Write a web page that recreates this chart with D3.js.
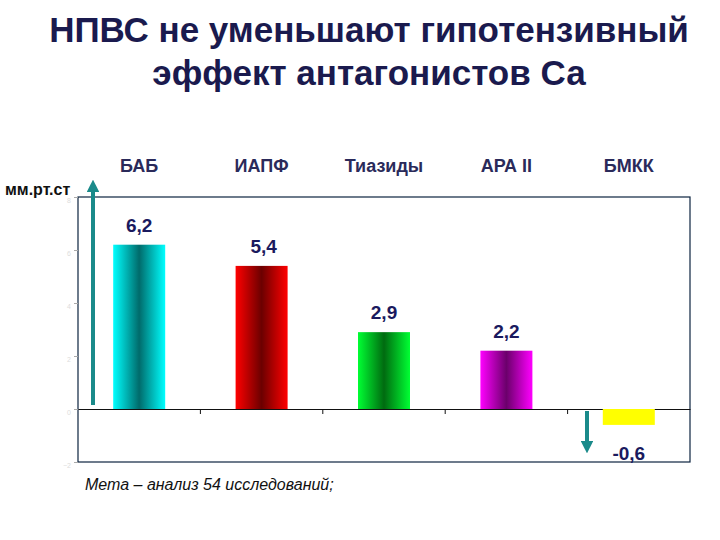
<!DOCTYPE html>
<html><head><meta charset="utf-8">
<script src="https://cdn.jsdelivr.net/npm/d3@7"></script>
<style>body{margin:0;background:#fff}text{font-family:"Liberation Sans",Arial,sans-serif}</style>
</head><body>
<svg id="c" width="720" height="540"></svg>
<script>
const categories = ["БАБ", "ИАПФ", "Тиазиды", "АРА II", "БМКК"];
const values = [6.2, 5.4, 2.9, 2.2, -0.6];
const labels = ["6,2", "5,4", "2,9", "2,2", "-0,6"];
const tickValues = [-2, 0, 2, 4, 6, 8];
const colors = [["#00ffff", "#006b6b"], ["#ff0000", "#6b0000"], ["#00ff33", "#006b10"], ["#ff00ff", "#6b006b"], ["#ffff00", "#ffff00"]];

const svg = d3.select("#c");
const pLeft = 78, pRight = 690, pTop = 197, pBottom = 462;

const x = d3.scaleBand().domain(categories).range([pLeft, pRight]);
const y = d3.scaleLinear().domain([-2, 8]).range([pBottom, pTop]);

const defs = svg.append("defs");
colors.forEach((c, i) => {
    let g = defs.append("linearGradient").attr("id", `g${i}`);
    g.append("stop").attr("offset", "0%").attr("stop-color", c[0]);
    g.append("stop").attr("offset", "50%").attr("stop-color", c[1]);
    g.append("stop").attr("offset", "100%").attr("stop-color", c[0]);
});

// title
svg.append("text").attr("x", 369).attr("y", 42).attr("text-anchor", "middle")
    .attr("font-size", 35).attr("font-weight", "bold").attr("fill", "#1a1a4e")
    .text("НПВС не уменьшают гипотензивный");
svg.append("text").attr("x", 369).attr("y", 85).attr("text-anchor", "middle")
    .attr("font-size", 35).attr("font-weight", "bold").attr("fill", "#1a1a4e")
    .text("эффект антагонистов Са");

// frame
svg.append("rect").attr("x", pLeft).attr("y", pTop).attr("width", pRight - pLeft).attr("height", pBottom - pTop)
    .attr("fill", "none").attr("stroke", "#0d2340").attr("stroke-width", 1.2);

// y axis
const yAxis = svg.append("g").attr("transform", `translate(${pLeft},0)`)
    .call(d3.axisLeft(y).tickValues(tickValues).tickSize(4));
yAxis.select(".domain").remove();
yAxis.selectAll("text").attr("fill", "#ddd").attr("font-size", 7).attr("dy", "0.8em");
yAxis.selectAll("line").attr("stroke", "#aaa");

// zero line with category ticks
const xAxis = svg.append("g").attr("transform", `translate(0,${y(0)})`)
    .call(d3.axisBottom(x).tickSize(0).tickFormat(""));
xAxis.select(".domain").attr("stroke", "#111");
xAxis.selectAll(".tick").remove();
categories.slice(1).forEach(c => {
    svg.append("line").attr("x1", x(c)).attr("x2", x(c)).attr("y1", y(0)).attr("y2", y(0) + 5).attr("stroke", "#111");
});

// category headers
svg.selectAll("text.cat").data(categories).enter().append("text")
    .attr("x", d => x(d) + x.bandwidth() / 2).attr("y", 172).attr("text-anchor", "middle")
    .attr("font-size", 18).attr("font-weight", "bold").attr("fill", "#2a2a5a").text(d => d);

const bw = 52;
svg.selectAll("rect.bar").data(values).enter().append("rect")
    .attr("x", (d, i) => x(categories[i]) + x.bandwidth() / 2 - bw / 2)
    .attr("y", d => y(Math.max(0, d)))
    .attr("width", bw)
    .attr("height", d => Math.abs(y(d) - y(0)))
    .attr("fill", (d, i) => `url(#g${i})`);

svg.selectAll("text.val").data(values).enter().append("text")
    .attr("x", (d, i) => x(categories[i]) + x.bandwidth() / 2 + (i === 1 ? 2 : 0))
    .attr("y", d => d >= 0 ? y(d) - 13 : y(d) + 35)
    .attr("text-anchor", "middle").attr("font-size", 19).attr("font-weight", "bold")
    .attr("fill", "#1a1a5e").text((d, i) => labels[i]);

// arrows
defs.append("marker").attr("id", "ah").attr("viewBox", "0 0 10 10").attr("refX", 5).attr("refY", 5)
    .attr("markerWidth", 3.2).attr("markerHeight", 3.2).attr("orient", "auto")
    .append("path").attr("d", "M0,0 L10,5 L0,10 Z").attr("fill", "#1a8a8a");
svg.append("line").attr("x1", 93).attr("x2", 93).attr("y1", 405).attr("y2", 186)
    .attr("stroke", "#1a8a8a").attr("stroke-width", 4).attr("marker-end", "url(#ah)");
svg.append("line").attr("x1", 587).attr("x2", 587).attr("y1", 411).attr("y2", 447)
    .attr("stroke", "#1a8a8a").attr("stroke-width", 4).attr("marker-end", "url(#ah)");

svg.append("text").attr("x", 5).attr("y", 195).attr("font-size", 16).attr("font-weight", "bold")
    .attr("fill", "#111").text("мм.рт.ст");

svg.append("text").attr("x", 85).attr("y", 490).attr("font-size", 16).attr("font-style", "italic")
    .attr("fill", "#111").text("Мета – анализ 54 исследований;");
</script>
</body></html>
